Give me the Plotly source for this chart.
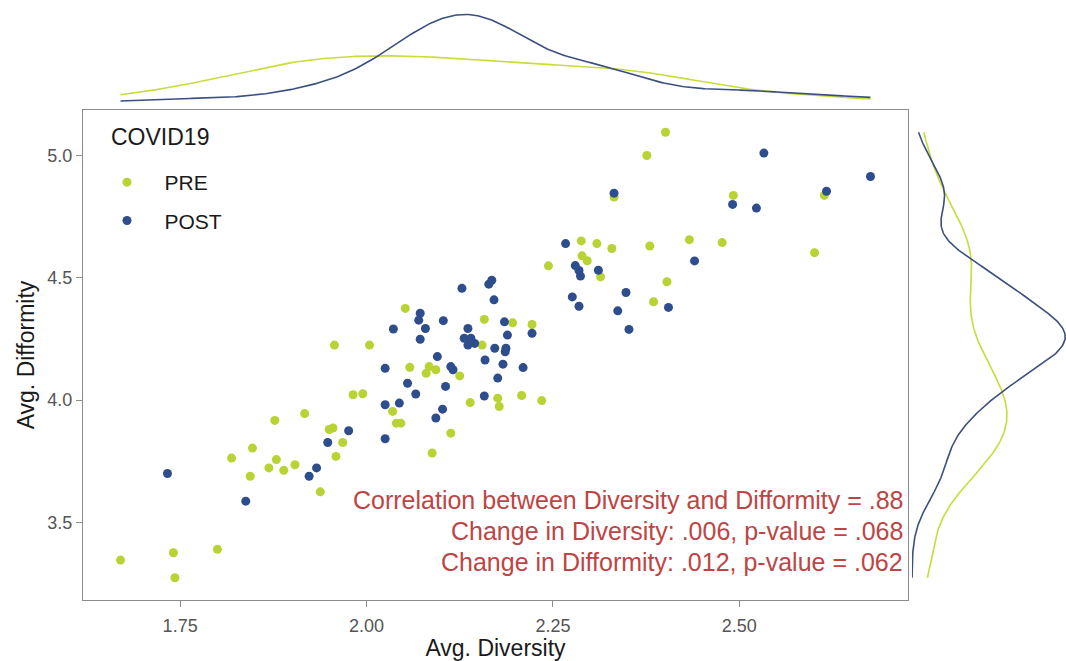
import numpy as np
import plotly.graph_objects as go

# ---- data ----
pre_diversity = [2.401, 2.376, 2.332, 2.614, 2.492, 2.601, 2.288, 2.309, 2.329, 2.380,
                 2.433, 2.477, 2.244, 2.289, 2.296, 2.314, 2.403, 2.385, 2.158, 2.196,
                 2.222, 2.155, 2.052, 1.957, 2.004, 2.058, 2.084, 2.080, 2.093, 2.125,
                 1.982, 1.995, 2.208, 2.235, 2.139, 2.176, 2.178, 2.035, 2.040, 2.046,
                 1.917, 1.877, 1.955, 1.950, 1.968, 1.959, 2.113, 2.088, 1.847, 1.819,
                 1.844, 1.869, 1.879, 1.889, 1.904, 1.938, 1.670, 1.741, 1.743, 1.800]
pre_difformity = [5.095, 5.000, 4.830, 4.837, 4.837, 4.603, 4.651, 4.640, 4.620, 4.630,
                  4.656, 4.644, 4.549, 4.590, 4.570, 4.504, 4.484, 4.402, 4.330, 4.316,
                  4.309, 4.225, 4.375, 4.225, 4.225, 4.134, 4.137, 4.110, 4.124, 4.099,
                  4.022, 4.026, 4.019, 3.998, 3.990, 4.008, 3.974, 3.954, 3.906, 3.906,
                  3.945, 3.917, 3.886, 3.880, 3.827, 3.770, 3.865, 3.784, 3.804, 3.763,
                  3.689, 3.723, 3.757, 3.713, 3.736, 3.625, 3.346, 3.376, 3.274, 3.390]

post_diversity = [2.533, 2.676, 2.332, 2.617, 2.491, 2.523, 2.267, 2.440, 2.280, 2.285,
                  2.287, 2.311, 2.348, 2.276, 2.285, 2.405, 2.337, 2.352, 2.185, 2.168,
                  2.164, 2.171, 2.222, 2.189, 2.172, 2.187, 2.186, 2.128, 2.072, 2.070,
                  2.079, 2.103, 2.036, 2.136, 2.131, 2.140, 2.145, 2.136, 2.072, 2.095,
                  2.159, 2.183, 2.210, 2.025, 2.113, 2.116, 2.176, 2.055, 2.106, 2.066,
                  2.158, 2.025, 2.044, 2.102, 2.093, 1.976, 1.948, 2.025, 1.933, 1.923,
                  1.733, 1.838]
post_difformity = [5.010, 4.914, 4.846, 4.854, 4.800, 4.785, 4.640, 4.569, 4.550, 4.530,
                   4.507, 4.531, 4.440, 4.422, 4.384, 4.379, 4.365, 4.289, 4.320, 4.490,
                   4.474, 4.410, 4.273, 4.266, 4.212, 4.212, 4.198, 4.457, 4.355, 4.327,
                   4.293, 4.325, 4.291, 4.293, 4.253, 4.253, 4.232, 4.225, 4.249, 4.178,
                   4.164, 4.147, 4.133, 4.130, 4.137, 4.124, 4.090, 4.069, 4.056, 4.025,
                   4.017, 3.981, 3.988, 3.963, 3.927, 3.875, 3.827, 3.842, 3.723, 3.689,
                   3.700, 3.587]

x_ticks = [1.75, 2.00, 2.25, 2.50]
x_ticktext = ["1.75", "2.00", "2.25", "2.50"]
y_ticks = [3.5, 4.0, 4.5, 5.0]
y_ticktext = ["3.5", "4.0", "4.5", "5.0"]

group_names = ["PRE", "POST"]
legend_title = "COVID19"
annotation_lines = ["Correlation between Diversity and Difformity = .88",
                    "Change in Diversity: .006, p-value = .068",
                    "Change in Difformity: .012, p-value = .062"]

PRE_COL = "#b8d333"
POST_COL = "#2e4d8c"
PRE_LINE = "#c8dc3c"
POST_LINE = "#3b5080"
TXT_RED = "#bd4545"
FONT = "Liberation Sans, Arial"

W, H = 1066, 661


def kde(values, grid):
    v = np.asarray(values, float)
    n = len(v)
    sd = v.std(ddof=1)
    iqr = np.subtract(*np.percentile(v, [75, 25]))
    bw = 0.9 * min(sd, iqr / 1.34) * n ** (-0.2)
    z = (grid[:, None] - v[None, :]) / bw
    return np.exp(-0.5 * z ** 2).sum(axis=1) / (n * bw * np.sqrt(2 * np.pi))


all_x = pre_diversity + post_diversity
all_y = pre_difformity + post_difformity
gx = np.linspace(min(all_x), max(all_x), 400)
gy = np.linspace(min(all_y), max(all_y), 400)
dx_pre, dx_post = kde(pre_diversity, gx), kde(post_diversity, gx)
dy_pre, dy_post = kde(pre_difformity, gy), kde(post_difformity, gy)

xr = [min(all_x) - 0.05 * (max(all_x) - min(all_x)), max(all_x) + 0.05 * (max(all_x) - min(all_x))]
yr = [min(all_y) - 0.05 * (max(all_y) - min(all_y)), max(all_y) + 0.05 * (max(all_y) - min(all_y))]

fig = go.Figure()

NB = "\u00a0\u00a0\u00a0"
# main scatter
fig.add_trace(go.Scatter(x=pre_diversity, y=pre_difformity, mode="markers", name=NB + group_names[0],
                         legendgroup="pre",
                         marker=dict(color=PRE_COL, size=9), xaxis="x", yaxis="y"))
fig.add_trace(go.Scatter(x=post_diversity, y=post_difformity, mode="markers", name=NB + group_names[1],
                         legendgroup="post",
                         marker=dict(color=POST_COL, size=9), xaxis="x", yaxis="y"))

# top marginal densities
fig.add_trace(go.Scatter(x=gx, y=dx_pre, mode="lines", line=dict(color=PRE_LINE, width=1.6),
                         showlegend=False, xaxis="x2", yaxis="y2", hoverinfo="skip"))
fig.add_trace(go.Scatter(x=gx, y=dx_post, mode="lines", line=dict(color=POST_LINE, width=1.6),
                         showlegend=False, xaxis="x2", yaxis="y2", hoverinfo="skip"))

# right marginal densities
fig.add_trace(go.Scatter(x=dy_pre, y=gy, mode="lines", line=dict(color=PRE_LINE, width=1.6),
                         showlegend=False, xaxis="x3", yaxis="y3", hoverinfo="skip"))
fig.add_trace(go.Scatter(x=dy_post, y=gy, mode="lines", line=dict(color=POST_LINE, width=1.6),
                         showlegend=False, xaxis="x3", yaxis="y3", hoverinfo="skip"))

main_xd = [83 / W, 908 / W]
main_yd = [(H - 600) / H, (H - 110) / H]
top_peak = max(dx_pre.max(), dx_post.max())
right_peak = max(dy_pre.max(), dy_post.max())

axis_common = dict(showgrid=False, zeroline=False, showline=True, linecolor="#8c8c8c",
                   linewidth=1, mirror=True, ticks="outside", ticklen=6, tickcolor="#8c8c8c",
                   tickfont=dict(family=FONT, size=18, color="#555555"))
hidden = dict(visible=False, showgrid=False, zeroline=False)

fig.update_layout(
    width=W, height=H, margin=dict(l=0, r=0, t=0, b=0),
    paper_bgcolor="white", plot_bgcolor="white",
    font=dict(family=FONT, color="#1a1a1a"),
    xaxis=dict(domain=main_xd, range=xr, tickvals=x_ticks, ticktext=x_ticktext,
               ticklabelstandoff=3,
               title=dict(text="Avg. Diversity", font=dict(size=23, color="#1a1a1a"), standoff=2),
               anchor="y", **axis_common),
    yaxis=dict(domain=main_yd, range=yr, tickvals=y_ticks, ticktext=y_ticktext,
               title=dict(text="Avg. Difformity", font=dict(size=23, color="#1a1a1a"), standoff=6),
               anchor="x", **axis_common),
    xaxis2=dict(domain=main_xd, range=xr, anchor="y2", **hidden),
    yaxis2=dict(domain=[(H - 103) / H, (H - 10) / H], range=[0, top_peak * 1.05], anchor="x2", **hidden),
    xaxis3=dict(domain=[912 / W, 1.0], range=[0, right_peak * 1.005], anchor="y3", **hidden),
    yaxis3=dict(domain=main_yd, range=yr, anchor="x3", **hidden),
    legend=dict(x=107 / W, y=(H - 162) / H, xanchor="left", yanchor="top",
                bgcolor="rgba(0,0,0,0)", tracegroupgap=8,
                font=dict(size=21, color="#1a1a1a")),
    showlegend=True,
)

# legend title
fig.add_annotation(text=legend_title, xref="paper", yref="paper", x=109 / W, y=(H - 137) / H,
                   xanchor="left", yanchor="middle", showarrow=False,
                   font=dict(family=FONT, size=23, color="#1a1a1a"))

ys = [500, 531, 562]
for txt, yp in zip(annotation_lines, ys):
    fig.add_annotation(text=txt, xref="paper", yref="paper", x=905 / W, y=(H - yp) / H,
                       xanchor="right", yanchor="middle", showarrow=False,
                       font=dict(family=FONT, size=25, color=TXT_RED))

fig.write_html("out.html")
